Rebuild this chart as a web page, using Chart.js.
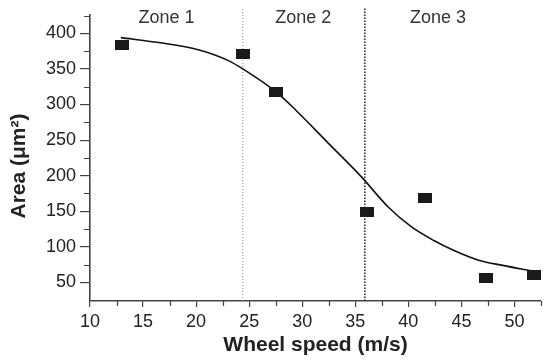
<!DOCTYPE html>
<html>
<head>
<meta charset="utf-8">
<script src="https://cdn.jsdelivr.net/npm/chart.js@4/dist/chart.umd.min.js"></script>
<style>
html,body{margin:0;padding:0;background:#fff;}
#wrap{width:549px;height:360px;position:relative;}
</style>
</head>
<body>
<div id="wrap"><canvas id="c" width="549" height="360"></canvas></div>
<script>
// ---- data ----
const speeds = [13.0, 24.4, 27.5, 36.1, 41.6, 47.3, 51.8];
const areas  = [383, 371, 317, 149, 169, 57, 61];

const fitX = [12.9, 16.5, 20.2, 23.0, 24.4, 27.5, 29.4, 32.5, 35.6, 38.1, 40.3, 42.4, 44.3, 46.7, 48.9, 51.7];
const fitY = [394, 387, 377, 362, 350, 318, 292, 245, 198, 156, 128, 109, 95, 81, 74, 66];

const zoneBounds = [24.4, 35.9];
const zoneNames = ['Zone 1', 'Zone 2', 'Zone 3'];
const zoneLabelX = [17.2, 30.1, 42.8];

const xTicks = [10, 15, 20, 25, 30, 35, 40, 45, 50];
const xMinor = [12.5, 17.5, 22.5, 27.5, 32.5, 37.5, 42.5, 47.5, 52.5];
const yTicks = [50, 100, 150, 200, 250, 300, 350, 400];
const yMinor = [75, 125, 175, 225, 275, 325, 375, 425];

const yTitle = 'Area (μm²)';
const xTitle = 'Wheel speed (m/s)';

const FONT = "'Liberation Sans', Arial, Helvetica, sans-serif";
const INK = '#222';
const AXIS = '#444';

// rectangular marker
const marker = document.createElement('canvas');
marker.width = 14; marker.height = 10;
(function(){const g = marker.getContext('2d'); g.fillStyle = '#1a1a1a'; g.fillRect(0,0,14,10);})();

const extras = {
  id: 'extras',
  afterDraw(chart) {
    const {ctx} = chart;
    const xs = chart.scales.x, ys = chart.scales.y;
    ctx.save();
    ctx.strokeStyle = AXIS;
    ctx.lineWidth = 1.2;
    ctx.beginPath();
    xMinor.forEach(v => {
      const px = Math.round(xs.getPixelForValue(v)) + 0.5;
      ctx.moveTo(px, xs.top); ctx.lineTo(px, xs.top + 5);
    });
    yMinor.forEach(v => {
      const py = Math.round(ys.getPixelForValue(v)) + 0.5;
      ctx.moveTo(ys.right, py); ctx.lineTo(ys.right - 6, py);
    });
    ctx.stroke();
    // zone labels
    ctx.fillStyle = '#333';
    ctx.font = '18px ' + FONT;
    ctx.textAlign = 'center';
    ctx.textBaseline = 'alphabetic';
    zoneNames.forEach((n, i) => {
      ctx.fillText(n, xs.getPixelForValue(zoneLabelX[i]), 23);
    });
    // y axis title
    ctx.fillStyle = INK;
    ctx.font = 'bold 21px ' + FONT;
    ctx.translate(19, 166);
    ctx.rotate(-Math.PI / 2);
    ctx.textAlign = 'center';
    ctx.textBaseline = 'middle';
    ctx.fillText(yTitle, 0, 0);
    ctx.restore();
  }
};

new Chart(document.getElementById('c'), {
  type: 'scatter',
  data: {
    datasets: [
      {
        type: 'line',
        data: [{x: zoneBounds[0], y: 24}, {x: zoneBounds[0], y: 436}],
        borderColor: '#888', borderWidth: 1, borderDash: [1, 2],
        pointRadius: 0, clip: false, order: 3
      },
      {
        type: 'line',
        data: [{x: zoneBounds[1], y: 24}, {x: zoneBounds[1], y: 436}],
        borderColor: '#222', borderWidth: 1.5, borderDash: [1.5, 1.5],
        pointRadius: 0, clip: false, order: 3
      },
      {
        type: 'line',
        data: fitX.map((x, i) => ({x, y: fitY[i]})),
        borderColor: '#111', borderWidth: 1.6,
        cubicInterpolationMode: 'monotone',
        pointRadius: 0, order: 2
      },
      {
        data: speeds.map((x, i) => ({x, y: areas[i]})),
        pointStyle: marker, pointRadius: 7,
        backgroundColor: '#1a1a1a', borderColor: '#1a1a1a',
        order: 1, clip: false
      }
    ]
  },
  options: {
    responsive: false,
    animation: false,
    layout: {padding: {top: 14, right: 0, bottom: 0, left: 0}},
    plugins: {legend: {display: false}, tooltip: {enabled: false}},
    scales: {
      x: {
        type: 'linear', min: 10, max: 52.5,
        afterBuildTicks: s => { s.ticks = xTicks.map(v => ({value: v})); },
        afterFit: s => { s.height = 59; },
        border: {display: true, color: AXIS, width: 1.6},
        grid: {drawOnChartArea: false, drawTicks: true, tickLength: 6, color: AXIS, lineWidth: 1.2},
        ticks: {color: INK, font: {size: 18, family: FONT}, padding: 4, maxRotation: 0},
        title: {display: true, text: xTitle, color: INK,
                font: {size: 21, weight: 'bold', family: FONT}, padding: {top: 0, bottom: 2}}
      },
      y: {
        type: 'linear', min: 24, max: 426,
        afterBuildTicks: s => { s.ticks = yTicks.map(v => ({value: v})); },
        afterFit: s => { s.width = 90; },
        border: {display: true, color: AXIS, width: 1.6},
        grid: {drawOnChartArea: false, drawTicks: true, tickLength: 10, color: AXIS, lineWidth: 1.2},
        ticks: {color: INK, font: {size: 18, family: FONT}, padding: 4}
      }
    }
  },
  plugins: [extras]
});
</script>
</body>
</html>
